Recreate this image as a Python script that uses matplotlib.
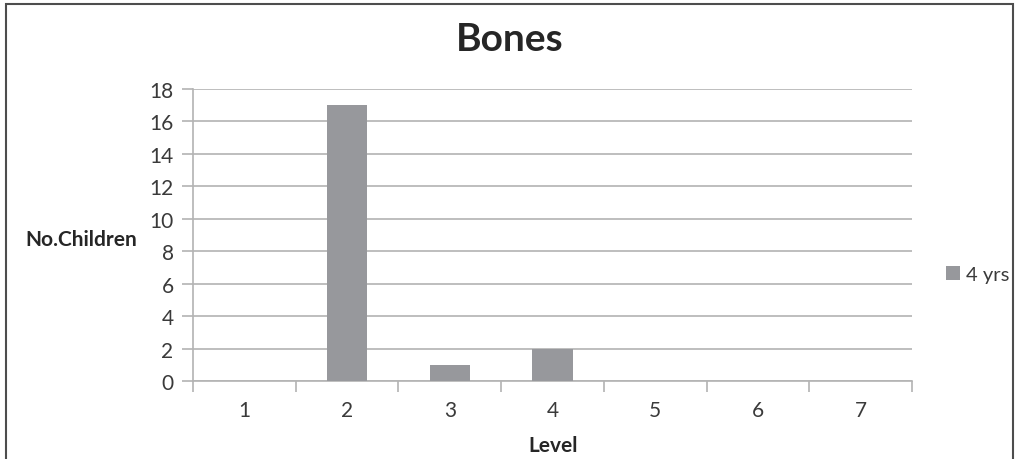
import numpy as np
import matplotlib
matplotlib.use("Agg")
from matplotlib import pyplot as plt
from matplotlib.patches import Rectangle

levels = [1, 2, 3, 4, 5, 6, 7]
children_4yrs = [0, 17, 1, 2, 0, 0, 0]
y_ticks = [0, 2, 4, 6, 8, 10, 12, 14, 16, 18]

text_color = '#3a3a3a'
grid_color = '#b3b3b3'
bar_color = '#97989c'

plt.rcParams['font.family'] = ['Lato', 'DejaVu Sans']

fig = plt.figure(figsize=(10.19, 4.6), dpi=100)
ax = fig.add_axes([0.1894, 0.1696, 0.7056, 0.6347])

x = np.arange(len(levels))
ax.bar(x, children_4yrs, width=0.39, color=bar_color, label='4 yrs', zorder=3)

ax.set_xlim(-0.5, len(levels) - 0.5)
ax.set_ylim(0, 18)
ax.set_yticks(y_ticks)
ax.set_yticklabels([str(v) for v in y_ticks], fontsize=15, color=text_color)
ax.grid(axis='y', color=grid_color, linewidth=1.2, zorder=0)

ax.set_xticks(np.arange(len(levels) + 1) - 0.5)
ax.set_xticklabels([])
ax.set_xticks(x, minor=True)
ax.set_xticklabels([str(v) for v in levels], minor=True, fontsize=15, color=text_color)
ax.tick_params(axis='x', which='major', length=8, color=grid_color, width=1.2)
ax.tick_params(axis='x', which='minor', length=0, pad=14)
ax.tick_params(axis='y', length=8, color=grid_color, width=1.2, pad=6)

for side in ['top', 'right']:
    ax.spines[side].set_visible(False)
for side in ['left', 'bottom']:
    ax.spines[side].set_color(grid_color)
    ax.spines[side].set_linewidth(1.2)

fig.text(0.5, 0.915, 'Bones', ha='center', va='center', fontsize=28,
         fontweight='bold', color='#262626')
fig.text(0.025, 0.478, 'No.Children', ha='left', va='center', fontsize=15,
         fontweight='bold', color='#262626')
fig.text(0.543, 0.03, 'Level', ha='center', va='center', fontsize=15,
         fontweight='bold', color='#262626')

ax.legend(loc='center left', bbox_to_anchor=(1.022, 0.365), frameon=False,
          fontsize=14.5, handlelength=0.7, handleheight=0.7, handletextpad=0.3,
          labelcolor=text_color)

fig.patches.append(Rectangle((6 / 1019, -0.05), 1007 / 1019, 1.05 - 5 / 460,
                             transform=fig.transFigure, fill=False,
                             edgecolor='#4d4d4d', linewidth=1.5))

fig.savefig('out.png', dpi=100)
